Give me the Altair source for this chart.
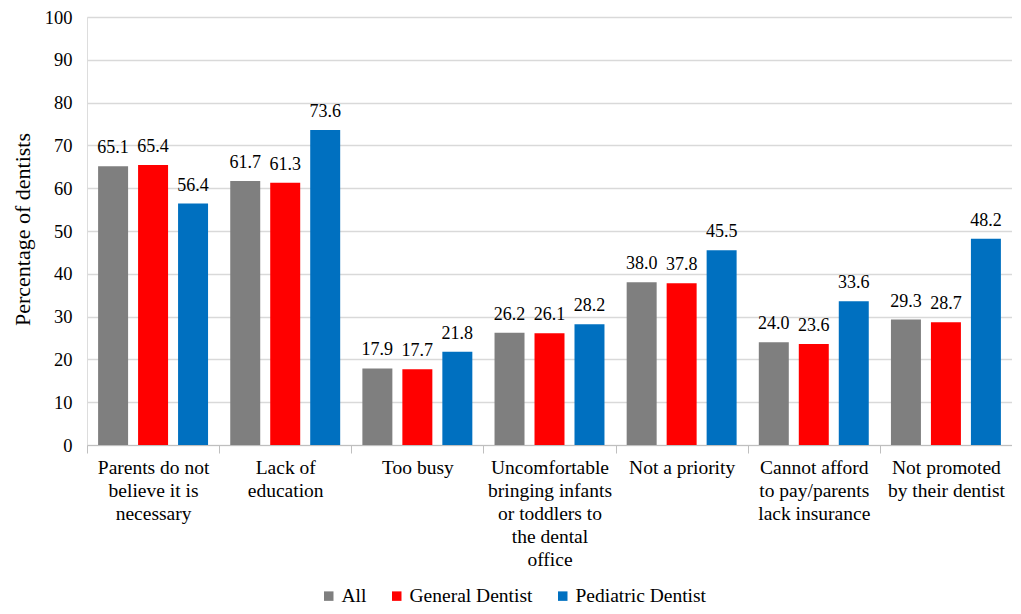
import altair as alt
import pandas as pd

categories = [
    "Parents do not believe it is necessary",
    "Lack of education",
    "Too busy",
    "Uncomfortable bringing infants or toddlers to the dental office",
    "Not a priority",
    "Cannot afford to pay/parents lack insurance",
    "Not promoted by their dentist",
]
label_lines = [
    ["Parents do not", "believe it is", "necessary"],
    ["Lack of", "education"],
    ["Too busy"],
    ["Uncomfortable", "bringing infants", "or toddlers to", "the dental", "office"],
    ["Not a priority"],
    ["Cannot afford", "to pay/parents", "lack insurance"],
    ["Not promoted", "by their dentist"],
]
series = ["All", "General Dentist", "Pediatric Dentist"]
colors = ["#7f7f7f", "#ff0000", "#0070c0"]
all_vals = [65.1, 61.7, 17.9, 26.2, 38.0, 24.0, 29.3]
general_vals = [65.4, 61.3, 17.7, 26.1, 37.8, 23.6, 28.7]
pediatric_vals = [56.4, 73.6, 21.8, 28.2, 45.5, 33.6, 48.2]

rows = []
for s, vals in zip(series, [all_vals, general_vals, pediatric_vals]):
    for c, v in zip(categories, vals):
        rows.append({"category": c, "series": s, "value": v})
df = pd.DataFrame(rows)

def js_str(s):
    return "'" + s.replace("'", "\\'") + "'"

expr = "''"
for c, lines in reversed(list(zip(categories, label_lines))):
    arr = "[" + ",".join(js_str(l) for l in lines) + "]"
    expr = f"datum.value == {js_str(c)} ? {arr} : ({expr})"

FONT = "Times New Roman, Liberation Serif, DejaVu Serif, serif"

x = alt.X("category:N", sort=categories, title=None,
          scale=alt.Scale(paddingInner=0, paddingOuter=0),
          axis=alt.Axis(labelExpr=expr, labelAngle=0, labelFont=FONT, labelFontSize=19.5,
                        labelColor="#000000", labelLineHeight=23, labelPadding=5,
                        labelBaseline="top", tickBand="extent", tickSize=8,
                        tickColor="#bfbfbf", domainColor="#bfbfbf", grid=False,
                        labelLimit=300))
xo = alt.XOffset("series:N", sort=series,
                 scale=alt.Scale(paddingInner=0.25, paddingOuter=0.2775))
y = alt.Y("value:Q", scale=alt.Scale(domain=[0, 100]),
          axis=alt.Axis(values=list(range(0, 101, 10)), title="Percentage of dentists",
                        titleFont=FONT, titleFontSize=22, titleFontWeight="normal",
                        titleColor="#000000", titleX=-65, titleY=212,
                        titleBaseline="middle",
                        labelFont=FONT, labelFontSize=18.5, labelColor="#000000",
                        labelPadding=15, tickSize=0, domain=False,
                        gridColor="#d9d9d9", gridWidth=1.3))

base = alt.Chart(df)
bars = base.mark_bar().encode(
    x=x, xOffset=xo, y=y,
    color=alt.Color("series:N", sort=series,
                    scale=alt.Scale(domain=series, range=colors),
                    legend=alt.Legend(title=None, orient="none", direction="horizontal",
                                      legendX=232, legendY=569, symbolType="square",
                                      symbolSize=90, symbolStrokeWidth=0,
                                      labelFont=FONT, labelFontSize=19.5,
                                      labelColor="#000000", columnPadding=20,
                                      labelOffset=3)),
)
texts = base.mark_text(baseline="alphabetic", dy=-13, font=FONT, fontSize=18,
                       color="#000000").encode(
    x=alt.X("category:N", sort=categories),
    xOffset=alt.XOffset("series:N", sort=series),
    y="value:Q",
    text=alt.Text("value:Q", format=".1f"),
)

chart = (bars + texts).properties(
    width=925, height=428,
    autosize=alt.AutoSizeParams(type="none"),
    padding={"left": 79, "top": 9, "right": 0, "bottom": 161},
).configure_view(stroke=None).configure(background="#ffffff")

chart.save("out.html", embed_options={"renderer": "svg", "actions": False})
